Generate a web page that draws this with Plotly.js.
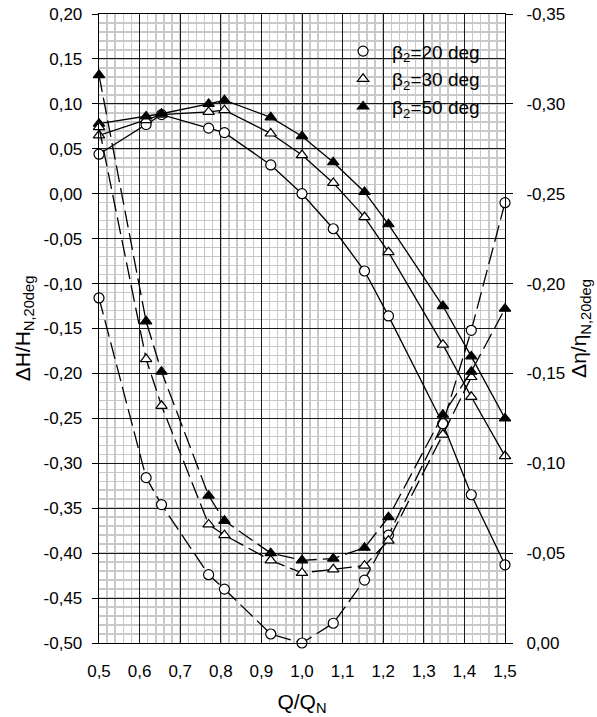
<!DOCTYPE html>
<html>
<head>
<meta charset="utf-8">
<script src="https://cdn.plot.ly/plotly-3.0.1.min.js"></script>
<style>
  html, body { margin: 0; padding: 0; background: #ffffff; }
  #chart { width: 597px; height: 717px; }
</style>
</head>
<body>
<div id="chart"></div>
<script>
// Flow rate relative to nominal, Q/Q_N
const flowRatio = [0.5, 0.616, 0.654, 0.770, 0.809, 0.923, 1.0, 1.077, 1.154, 1.213, 1.347, 1.417, 1.5];

// Head deviation ΔH/H_N,20deg (left axis, solid lines)
const headBeta20 = [0.044, 0.077, 0.088, 0.073, 0.068, 0.032, 0.000, -0.039, -0.086, -0.136, -0.256, -0.335, -0.413];
const headBeta30 = [0.065, 0.082, 0.088, 0.091, 0.093, 0.067, 0.043, 0.012, -0.026, -0.065, -0.168, -0.226, -0.292];
const headBeta50 = [0.078, 0.086, 0.089, 0.100, 0.104, 0.085, 0.064, 0.035, 0.002, -0.034, -0.125, -0.181, -0.250];

// Efficiency deviation Δη/η_N,20deg (right axis, dashed lines)
const effBeta20 = [-0.192, -0.092, -0.077, -0.038, -0.030, -0.005, 0.000, -0.011, -0.035, -0.060, -0.122, -0.174, -0.245];
const effBeta30 = [-0.287, -0.158, -0.132, -0.066, -0.060, -0.046, -0.039, -0.041, -0.043, -0.057, -0.116, -0.148];
const effBeta50 = [-0.316, -0.179, -0.151, -0.082, -0.068, -0.050, -0.046, -0.047, -0.053, -0.070, -0.127, -0.151, -0.186];

// Series names
const seriesNames = ['β<sub>2</sub>=20 deg', 'β<sub>2</sub>=30 deg', 'β<sub>2</sub>=50 deg'];

// Tick labels (decimal comma)
const xTickVals = [0.5, 0.6, 0.7, 0.8, 0.9, 1.0, 1.1, 1.2, 1.3, 1.4, 1.5];
const xTickText = ['0,5', '0,6', '0,7', '0,8', '0,9', '1,0', '1,1', '1,2', '1,3', '1,4', '1,5'];
const leftTickVals = [0.20, 0.15, 0.10, 0.05, 0.00, -0.05, -0.10, -0.15, -0.20, -0.25, -0.30, -0.35, -0.40, -0.45, -0.50];
const leftTickText = ['0,20', '0,15', '0,10', '0,05', '0,00', '-0,05', '-0,10', '-0,15', '-0,20', '-0,25', '-0,30', '-0,35', '-0,40', '-0,45', '-0,50'];
const rightTickVals = [-0.35, -0.30, -0.25, -0.20, -0.15, -0.10, -0.05, 0.00];
const rightTickText = ['-0,35', '-0,30', '-0,25', '-0,20', '-0,15', '-0,10', '-0,05', '0,00'];

const FONT = 'Liberation Sans, Arial, sans-serif';
const INK = '#000000';

const symbols = [
  { symbol: 'circle', fill: '#ffffff', size: 10 },
  { symbol: 'triangle-up', fill: '#ffffff', size: 10 },
  { symbol: 'triangle-up', fill: INK, size: 10 }
];

function markerStyle(i) {
  return {
    symbol: symbols[i].symbol,
    size: symbols[i].size,
    color: symbols[i].fill,
    line: { color: INK, width: 1.2 }
  };
}

function curve(y, i, axis, dashed) {
  return {
    type: 'scatter',
    mode: 'lines+markers',
    x: flowRatio,
    y: y,
    yaxis: axis,
    showlegend: false,
    hoverinfo: 'skip',
    line: { color: INK, width: 1.3, dash: dashed ? '17px,6px' : 'solid' },
    marker: markerStyle(i),
    cliponaxis: false
  };
}

// Legend-only entries (marker symbol without line)
function legendEntry(i) {
  return {
    type: 'scatter',
    mode: 'markers',
    x: [null],
    y: [null],
    name: seriesNames[i],
    legendgroup: 'g' + i,
    marker: markerStyle(i),
    hoverinfo: 'skip'
  };
}

const traces = [
  curve(effBeta20, 0, 'y2', true),
  curve(effBeta30, 1, 'y2', true),
  curve(effBeta50, 2, 'y2', true),
  curve(headBeta20, 0, 'y', false),
  curve(headBeta30, 1, 'y', false),
  curve(headBeta50, 2, 'y', false),
  legendEntry(0),
  legendEntry(1),
  legendEntry(2)
];

const minorGrid = '#c9c9c9';
const majorGrid = '#1a1a1a';

const layout = {
  width: 597,
  height: 717,
  margin: { l: 99, r: 92, t: 14, b: 74 },
  paper_bgcolor: '#ffffff',
  plot_bgcolor: '#ffffff',
  font: { family: FONT, size: 17, color: INK },
  showlegend: true,
  legend: {
    x: 0.579, y: 0.971, xanchor: 'left', yanchor: 'top',
    bgcolor: 'rgba(0,0,0,0)',
    borderwidth: 0,
    itemwidth: 48,
    tracegroupgap: 0,
    font: { family: FONT, size: 19, color: INK }
  },
  xaxis: {
    range: [0.5, 1.5],
    tickmode: 'array',
    tickvals: xTickVals,
    ticktext: xTickText,
    ticks: '',
    ticklabelstandoff: 12,
    showgrid: true,
    gridcolor: majorGrid,
    gridwidth: 1,
    minor: { dtick: 0.02, tick0: 0.5, showgrid: true, gridcolor: minorGrid, gridwidth: 1.5 },
    zeroline: false,
    showline: true,
    linecolor: INK,
    linewidth: 1.3,
    mirror: true,
    tickfont: { family: FONT, size: 17 },
    title: { text: 'Q/Q<sub>N</sub>', font: { family: FONT, size: 21 }, standoff: 14 }
  },
  yaxis: {
    range: [-0.5, 0.2],
    tickmode: 'array',
    tickvals: leftTickVals,
    ticktext: leftTickText,
    ticks: 'outside',
    ticklen: 6,
    tickcolor: INK,
    ticklabelstandoff: 6,
    showgrid: true,
    gridcolor: majorGrid,
    gridwidth: 1,
    minor: { dtick: 0.01, tick0: 0, showgrid: true, gridcolor: minorGrid, gridwidth: 1.5 },
    zeroline: false,
    showline: true,
    linecolor: INK,
    linewidth: 1.3,
    mirror: true,
    tickfont: { family: FONT, size: 17 },
    title: { text: 'ΔH/H<sub>N,20deg</sub>', font: { family: FONT, size: 21 }, standoff: 7 }
  },
  yaxis2: {
    overlaying: 'y',
    side: 'right',
    range: [0, -0.35],
    tickmode: 'array',
    tickvals: rightTickVals,
    ticktext: rightTickText,
    ticks: 'outside',
    ticklen: 7,
    tickcolor: INK,
    ticklabelstandoff: 10,
    showgrid: false,
    zeroline: false,
    showline: false,
    tickfont: { family: FONT, size: 17 },
    title: { text: 'Δη/η<sub>N,20deg</sub>', font: { family: FONT, size: 21 }, standoff: 7 }
  },
  shapes: [
    // White panel behind the legend, covering the grid
    {
      type: 'rect', xref: 'paper', yref: 'paper',
      x0: 0.544, x1: 1, y0: 0.789, y1: 1,
      fillcolor: '#ffffff', line: { width: 0 }, layer: 'between'
    }
  ]
};

Plotly.newPlot('chart', traces, layout, { staticPlot: true, displayModeBar: false });
</script>
</body>
</html>
